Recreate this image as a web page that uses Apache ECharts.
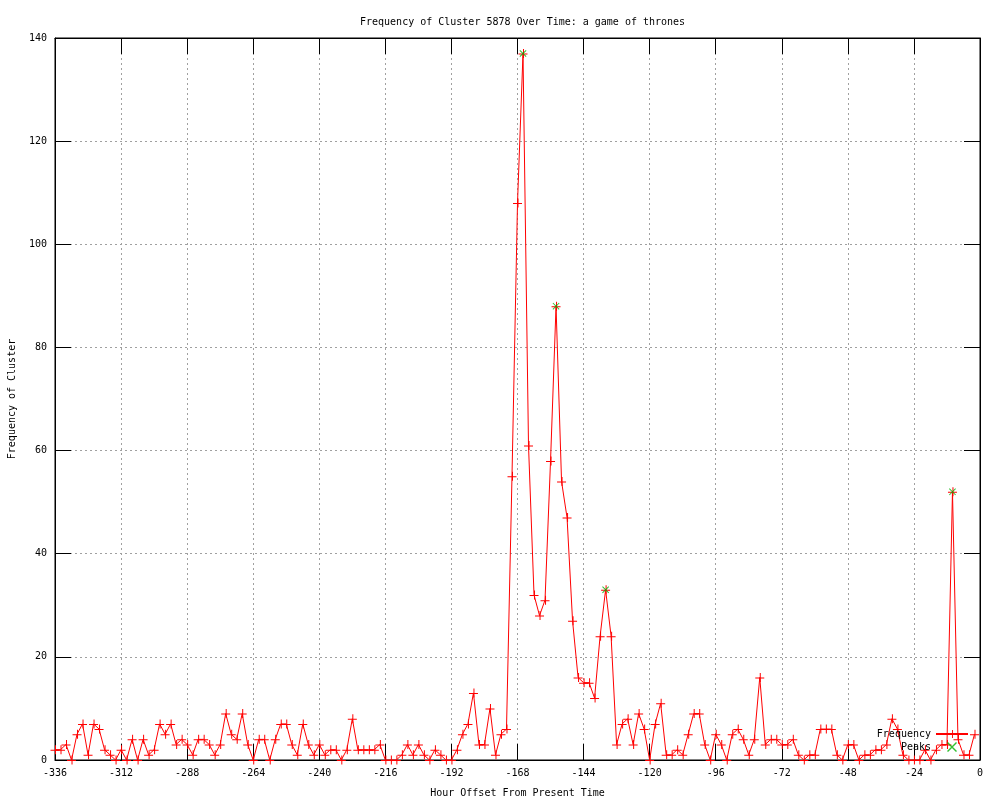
<!DOCTYPE html>
<html>
<head>
<meta charset="utf-8">
<script src="https://cdn.jsdelivr.net/npm/echarts@6/dist/echarts.min.js"></script>
<style>html,body{margin:0;padding:0;background:#fff}#c{width:1000px;height:800px}</style>
</head>
<body>
<div id="c"></div>
<script>
const hours = [-336,-334,-332,-330,-328,-326,-324,-322,-320,-318,-316,-314,-312,-310,-308,-306,-304,-302,-300,-298,
-296,-294,-292,-290,-288,-286,-284,-282,-280,-278,-276,-274,-272,-270,-268,-266,-264,-262,-260,-258,
-256,-254,-252,-250,-248,-246,-244,-242,-240,-238,-236,-234,-232,-230,-228,-226,-224,-222,-220,-218,
-216,-214,-212,-210,-208,-206,-204,-202,-200,-198,-196,-194,-192,-190,-188,-186,-184,-182,-180,-178,
-176,-174,-172,-170,-168,-166,-164,-162,-160,-158,-156,-154,-152,-150,-148,-146,-144,-142,-140,-138,
-136,-134,-132,-130,-128,-126,-124,-122,-120,-118,-116,-114,-112,-110,-108,-106,-104,-102,-100,-98,
-96,-94,-92,-90,-88,-86,-84,-82,-80,-78,-76,-74,-72,-70,-68,-66,-64,-62,-60,-58,
-56,-54,-52,-50,-48,-46,-44,-42,-40,-38,-36,-34,-32,-30,-28,-26,-24,-22,-20,-18,
-16,-14,-12,-10,-8,-6,-4,-2];
const frequency = [2,2,3,0,5,7,1,7,6,2,1,0,2,0,4,0,4,1,2,7,
5,7,3,4,3,1,4,4,3,1,3,9,5,4,9,3,0,4,4,0,
4,7,7,3,1,7,3,1,3,1,2,2,0,2,8,2,2,2,2,3,
0,0,0,1,3,1,3,1,0,2,1,0,0,2,5,7,13,3,3,10,
1,5,6,55,108,137,61,32,28,31,58,88,54,47,27,16,15,15,12,24,
33,24,3,7,8,3,9,6,0,7,11,1,1,2,1,5,9,9,3,0,
5,3,0,5,6,4,1,4,16,3,4,4,3,3,4,1,0,1,1,6,
6,6,1,0,3,3,0,1,1,2,2,3,8,6,1,0,0,0,2,0,
2,3,3,52,4,1,1,5];
const peakHours = [-166,-154,-136,-10];
const peakValues = [137,88,33,52];
const xTicks = {min:-336, max:0, interval:24};
const yTicks = {min:0, max:140, interval:20};

const FONT = 'DejaVu Sans Mono';
const PLUS = 'path://M0,4.5L9,4.5L9,5.5L0,5.5Z M4.5,0L5.5,0L5.5,9L4.5,9Z';
const XMARK = 'path://M0,0.7L0.7,0L7,6.3L6.3,7Z M6.3,0L7,0.7L0.7,7L0,6.3Z';

const chart = echarts.init(document.getElementById('c'), null, {renderer:'canvas'});
const grid = {left:55, right:20, top:38, bottom:40, show:true, borderColor:'#000', borderWidth:1,
  containLabel:false, outerBoundsMode:'none'};
const lbl = {fontFamily:FONT, fontSize:10, color:'#000'};
const axLine = {show:true, onZero:false, lineStyle:{color:'#000'}};
const axTick = {show:true, inside:true, length:16, lineStyle:{color:'#000'}};
chart.setOption({
  animation:false,
  backgroundColor:'#fff',
  title:{text:'Frequency of Cluster 5878 Over Time: a game of thrones', left:355, top:12,
    textStyle:{fontFamily:FONT, fontSize:10, fontWeight:'normal', color:'#000'}},
  grid: grid,
  legend:{orient:'vertical', align:'right', right:31, top:729, padding:0, itemGap:3, itemWidth:32, itemHeight:10,
    textStyle:{fontFamily:FONT, fontSize:10, color:'#000'}, data:['Frequency','Peaks'], selectedMode:false},
  xAxis:[{type:'value', min:xTicks.min, max:xTicks.max, interval:xTicks.interval,
    name:'Hour Offset From Present Time', nameLocation:'middle', nameGap:28, nameTextStyle:lbl,
    axisLine:axLine, axisTick:axTick,
    axisLabel:Object.assign({margin:8}, lbl),
    splitLine:{show:true, lineStyle:{color:'#a0a0a0', type:[2,3]}}},
    {type:'value', position:'top', min:xTicks.min, max:xTicks.max, interval:xTicks.interval,
    axisLine:axLine, axisTick:axTick,
    axisLabel:{show:false}, splitLine:{show:false}}],
  yAxis:[{type:'value', min:yTicks.min, max:yTicks.max, interval:yTicks.interval,
    name:'Frequency of Cluster', nameLocation:'middle', nameGap:38, nameTextStyle:lbl,
    axisLine:axLine, axisTick:axTick,
    axisLabel:Object.assign({margin:8}, lbl),
    splitLine:{show:true, lineStyle:{color:'#a0a0a0', type:[2,3]}}},
    {type:'value', position:'right', min:yTicks.min, max:yTicks.max, interval:yTicks.interval,
    axisLine:axLine, axisTick:axTick,
    axisLabel:{show:false}, splitLine:{show:false}}],
  series:[
    {name:'Frequency', type:'line', data:hours.map((h,i)=>[h, frequency[i]]),
     symbol:PLUS, symbolSize:9, showAllSymbol:true, itemStyle:{color:'#ff0000'},
     lineStyle:{color:'#ff0000', width:1}, z:2},
    {name:'Peaks', type:'scatter', data:peakHours.map((h,i)=>[h, peakValues[i]]),
     symbol:XMARK, symbolSize:7, itemStyle:{color:'#00b000'}, z:3}
  ]
});
</script>
</body>
</html>
